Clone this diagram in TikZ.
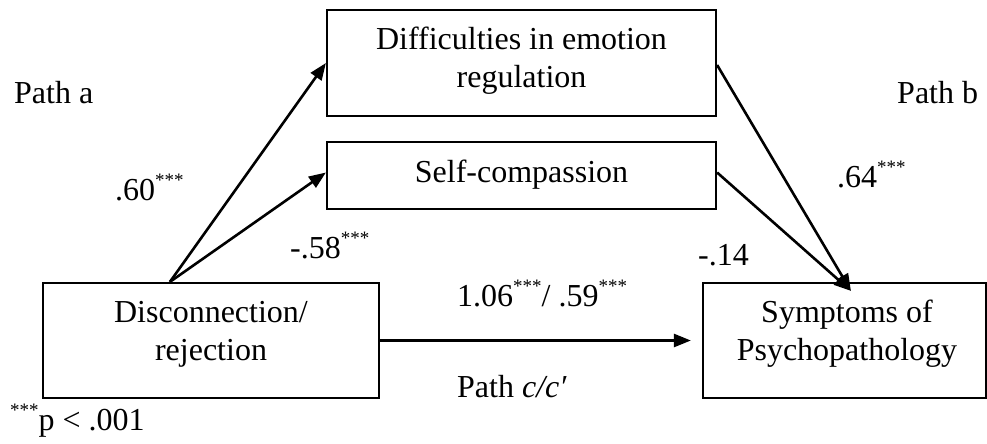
\documentclass[tikz,border=0pt]{standalone}
\usepackage{fontspec}
\setmainfont{Liberation Serif}
\usetikzlibrary{arrows.meta}
\newcommand\sigst{\raisebox{14pt}{\fontsize{19}{19}\selectfont ***}}
\begin{document}
\begin{tikzpicture}[x=1pt,y=-1pt,
  box/.style={draw, line width=2.2pt, inner sep=0pt},
  txt/.style={inner sep=0pt, align=center, font=\fontsize{32}{38}\selectfont},
  lbl/.style={inner sep=0pt, anchor=base west, font=\fontsize{32}{38}\selectfont},
  conn/.style={line width=2.6pt, -{Triangle[length=17pt,width=13pt]}}]
\useasboundingbox[fill=white] (0,0) rectangle (987,444);
% boxes
\node[box, minimum width=336pt, minimum height=115pt] (dis) at (211,340.5) {};
\node[box, minimum width=389pt, minimum height=106pt] (dif) at (521.5,63) {};
\node[box, minimum width=389pt, minimum height=67pt] (sc) at (521.5,175.5) {};
\node[box, minimum width=283pt, minimum height=115pt] (sym) at (844.5,340.5) {};
% box texts
\node[txt, anchor=base] (tdif) at (521.5,88) {Difficulties in emotion\\regulation};
\node[txt, anchor=base] (tsc) at (521.5,182) {Self-compassion};
\node[txt, anchor=base] (tdis) at (211,360) {Disconnection/\\rejection};
\node[txt, anchor=base] (tsym) at (847,360) {Symptoms of\\Psychopathology};
% connectors
\coordinate (src) at ([xshift=128pt]dis.north west);
\coordinate (tip) at ([xshift=149pt,yshift=-9pt]sym.north west);
\coordinate (ctip) at ([xshift=-11pt]sym.west);
\draw[conn] (src) -- (dif.west);
\draw[conn] (src) -- ([yshift=3pt]sc.west);
\draw[conn] (dis.east) -- (ctip);
\draw[conn] ([yshift=3pt]sc.east) -- (tip);
\draw[conn] ([yshift=-2pt]dif.east) -- (tip);
% labels
\node[lbl] (pa) at (14,103) {Path a};
\node[lbl] (l60) at (115,200) {.60\sigst};
\node[lbl] (l58) at (290,258) {-.58\sigst};
\node[lbl] (lc) at (457,306) {1.06\sigst/ .59\sigst};
\node[lbl] (pc) at (457,397) {Path \textit{c/c′}};
\node[lbl] (l14) at (698,265) {-.14};
\node[lbl] (l64) at (837,187) {.64\sigst};
\node[lbl] (pb) at (897,103) {Path b};
\node[lbl] (pv) at (10,430) {\sigst p < .001};
\end{tikzpicture}
\end{document}
